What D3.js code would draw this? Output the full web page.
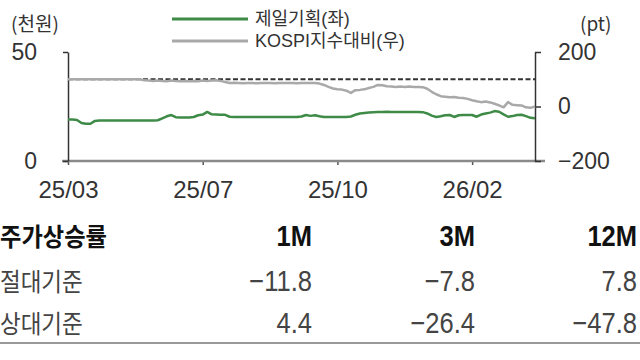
<!DOCTYPE html>
<html><head><meta charset="utf-8">
<script src="https://cdn.jsdelivr.net/npm/d3@7"></script>
<style>
html,body{margin:0;padding:0;background:#fff;}
svg{display:block;}
text{font-family:"Liberation Sans",Arial,"Noto Sans CJK KR",sans-serif;}
.kr{font-family:"Noto Sans CJK KR","Liberation Sans",sans-serif;}
</style></head>
<body><svg id="c" width="640" height="360"></svg>
<script>
// ---- data ----
const tickLabels = ["25/03","25/07","25/10","26/02"];
const tickIndex = [0, 30, 60, 90];
const baseline = 100; // KOSPI relative base (pt)
const cheil = [19.0,19.0,18.8,17.4,17.1,17.1,18.4,18.6,18.6,18.6,
  18.6,18.6,18.6,18.6,18.6,18.6,18.6,18.6,18.6,18.6,
  18.7,19.6,20.5,21.1,20.1,20.0,20.0,20.0,20.2,21.0,
  21.3,22.5,21.4,21.3,21.2,21.2,20.3,20.2,20.2,20.2,
  20.2,20.2,20.2,20.2,20.2,20.2,20.2,20.2,20.2,20.2,
  20.2,20.2,20.4,21.1,20.7,21.0,20.5,20.2,20.2,20.2,
  20.2,20.2,20.2,20.4,21.2,21.8,22.0,22.2,22.4,22.5,
  22.5,22.6,22.5,22.5,22.5,22.5,22.5,22.5,22.5,22.4,
  21.8,20.8,20.2,20.5,21.0,21.1,20.2,21.0,21.1,21.1,
  21.1,20.3,21.3,21.8,22.2,22.9,22.6,21.4,20.3,20.6,
  21.1,21.2,20.6,19.8,19.6];
const kospiRel = [100,100,100,100,100,100,100,100,100,100,
  100,100,100,100,100,100,100,96,95,94,
  95,94,93,95,94,93,94,93,94,93,
  95,94,95,96,94,90,86,87,86,85,
  86,86,85,86,86,86,85,86,86,86,
  86,85,86,86,86,86,84,79,72,66,
  63,62,58,50,60,61,63,68,72,79,
  78,74,73,72,73,72,73,72,72,71,
  65,54,45,38,36,34,35,32,31,28,
  23,19,16,18,15,10,4,-3,16,6,
  5,4,-3,-5,0];
const legendNames = ["제일기획(좌)","KOSPI지수대비(우)"];
const leftTicks = [0, 50];
const rightTicks = [-200, 0, 200];
const tableHead = ["주가상승률","1M","3M","12M"];
const rowNames = ["절대기준","상대기준"];
const absRet = [-11.8, -7.8, 7.8];
const relRet = [4.4, -26.4, -47.8];

// ---- drawing ----
const svg = d3.select("#c");
const N = cheil.length;
const x = d3.scaleLinear().domain([0, N-1]).range([68, 535]);
const yL = d3.scaleLinear().domain([0, 50]).range([161, 52]);
const yR = d3.scaleLinear().domain([-200, 200]).range([161, 52]);
const green = "#3e8b47", grey = "#a9a9a9";

// bottom axis
const xa = svg.append("g").attr("transform","translate(0,161)")
  .call(d3.axisBottom(x).tickValues(tickIndex).tickFormat((d,i)=>tickLabels[i]).tickSize(4).tickPadding(16).tickSizeOuter(0));
xa.select(".domain").remove();
xa.selectAll(".tick line").attr("stroke","#555").attr("stroke-width",1.5).attr("y1",0);
xa.selectAll("text").attr("font-size",24).attr("fill","#333");
svg.append("line").attr("x1",x(0)-6).attr("x2",x(N-1)+10).attr("y1",161).attr("y2",161)
  .attr("stroke","#8a8a8a").attr("stroke-width",2.5);

// left axis
const la = svg.append("g").attr("transform","translate(68,0)")
  .call(d3.axisLeft(yL).tickValues(leftTicks).tickSize(5).tickPadding(26).tickSizeOuter(0));
la.select(".domain").attr("stroke","#333").attr("stroke-width",1.5);
la.selectAll(".tick line").attr("stroke","#333").attr("stroke-width",1.5);
la.selectAll("text").attr("font-size",23).attr("fill","#333");

// right axis
const ra = svg.append("g").attr("transform","translate(535,0)")
  .call(d3.axisRight(yR).tickValues(rightTicks).tickSize(6).tickPadding(17).tickSizeOuter(0)
  .tickFormat(d => d < 0 ? "\u2212" + Math.abs(d) : d));
ra.select(".domain").attr("stroke","#333").attr("stroke-width",1.5);
ra.selectAll(".tick line").attr("stroke","#333").attr("stroke-width",1.5);
ra.selectAll("text").attr("font-size",23).attr("fill","#333");

// unit labels
svg.append("text").attr("class","kr").attr("x",11).attr("y",31).attr("font-size",19).attr("fill","#333").text("(천원)");
svg.append("text").attr("class","kr").attr("x",580).attr("y",31).attr("font-size",19).attr("fill","#333").text("(pt)");

// baseline dashed
svg.append("line").attr("x1",x(0)).attr("x2",x(N-1)).attr("y1",yR(baseline)).attr("y2",yR(baseline))
  .attr("stroke","#333").attr("stroke-width",2).attr("stroke-dasharray","5,2.5");

// lines
svg.append("path").datum(kospiRel)
  .attr("d", d3.line().x((d,i)=>x(i)).y(d=>yR(d)))
  .attr("fill","none").attr("stroke",grey).attr("stroke-width",2.5).attr("stroke-linejoin","round");
svg.append("path").datum(cheil)
  .attr("d", d3.line().x((d,i)=>x(i)).y(d=>yL(d)))
  .attr("fill","none").attr("stroke",green).attr("stroke-width",2.5).attr("stroke-linejoin","round");

// legend
const lg = svg.append("g");
[green, grey].forEach((c,i)=>{
  lg.append("line").attr("x1",172).attr("x2",248).attr("y1",19+i*22).attr("y2",19+i*22)
    .attr("stroke",c).attr("stroke-width",3);
  lg.append("text").attr("x",255).attr("y",19+i*22).attr("dy","0.36em")
    .attr("font-size",18).attr("fill","#333").text(legendNames[i]);
});

// table
const colRight = [312, 475, 637];
const rowBase = [246, 291, 333];
const fmt = v => (v < 0 ? "\u2212" : "") + Math.abs(v).toFixed(1);
svg.append("text").attr("class","kr").attr("transform",`translate(0,${rowBase[0]}) scale(0.93,1)`)
  .attr("font-size",25).attr("font-weight","bold").attr("fill","#111").text(tableHead[0]);
tableHead.slice(1).forEach((h,i)=>{
  svg.append("text").attr("transform",`translate(${colRight[i]},${rowBase[0]}) scale(0.88,1)`)
    .attr("text-anchor","end").attr("font-size",29).attr("font-weight","bold").attr("fill","#111").text(h);
});
rowNames.forEach((r,j)=>{
  svg.append("text").attr("class","kr").attr("transform",`translate(0,${rowBase[j+1]}) scale(0.9,1)`)
    .attr("font-size",25).attr("fill","#444").text(r);
});
[absRet, relRet].forEach((arr,j)=>{
  arr.forEach((v,i)=>{
    svg.append("text").attr("transform",`translate(${colRight[i]},${rowBase[j+1]}) scale(0.88,1)`)
      .attr("text-anchor","end").attr("font-size",29).attr("fill","#444").text(fmt(v));
  });
});
svg.append("line").attr("x1",0).attr("x2",640).attr("y1",343).attr("y2",343)
  .attr("stroke","#999").attr("stroke-width",2);
</script></body></html>
